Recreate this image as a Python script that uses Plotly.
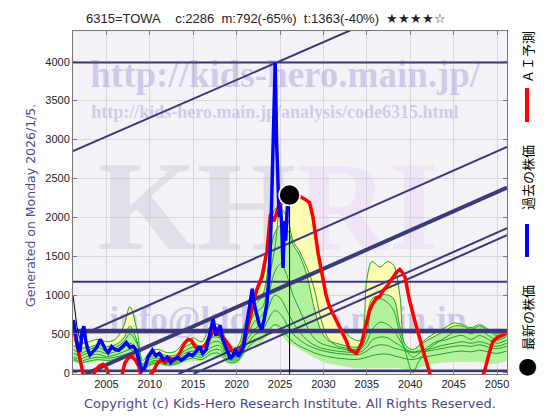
import plotly.graph_objects as go

# ---------------- data ----------------
X_RANGE = [2001.15, 2051.15]
Y_RANGE = [-15, 4395]
X_TICKS = [2005, 2010, 2015, 2020, 2025, 2030, 2035, 2040, 2045, 2050]
Y_TICKS = [0, 500, 1000, 1500, 2000, 2500, 3000, 3500, 4000]

TITLE = "6315=TOWA\u00a0\u00a0\u00a0\u00a0c:2286\u00a0\u00a0m:792(-65%)\u00a0\u00a0t:1363(-40%)\u00a0\u00a0★★★★☆"

BLUE_X = [2001.2, 2001.45, 2001.7, 2001.95, 2002.2, 2002.4, 2002.6, 2002.85, 2003.1, 2003.5,
          2003.9, 2004.3, 2004.6, 2004.9, 2005.2, 2005.6, 2006.0, 2006.4, 2006.8, 2007.3,
          2007.7, 2008.1, 2008.5, 2008.8, 2009.1, 2009.4, 2009.8, 2010.3, 2010.7, 2011.1,
          2011.6, 2012.0, 2012.4, 2012.8, 2013.2, 2013.6, 2014.0, 2014.5, 2014.9, 2015.3,
          2015.7, 2016.1, 2016.5, 2016.8, 2017.1, 2017.3, 2017.6, 2017.9, 2018.1, 2018.4,
          2018.7, 2019.0, 2019.3, 2019.6, 2019.9, 2020.2, 2020.5, 2020.8, 2021.0, 2021.2,
          2021.5, 2021.8, 2022.0, 2022.3, 2022.6, 2022.9, 2023.2, 2023.5, 2023.75, 2023.95,
          2024.1, 2024.25, 2024.45, 2024.6, 2024.75, 2024.9, 2025.05, 2025.2, 2025.35, 2025.5,
          2025.65, 2025.85, 2026.0, 2026.1]
BLUE_Y = [680, 520, 330, 270, 520, 600, 420, 300, 230, 280,
          330, 430, 360, 300, 260, 340, 300, 290, 330, 390,
          330, 340, 280, 120, 30, 60, 200, 290, 220, 250,
          170, 200, 130, 180, 200, 160, 190, 240, 220, 270,
          340, 250, 300, 450, 600, 690, 480, 560, 610, 430,
          350, 250, 180, 230, 300, 210, 260, 330, 500, 660,
          850, 1080, 900, 760, 620, 560, 700, 900, 1250, 1850,
          2500, 3300, 3990, 3000, 2300, 2000, 2150, 1900, 1350, 1950,
          1700, 2150, 2200, 2286]

RED_X = [2001.2, 2001.5, 2001.8, 2002.1, 2002.4, 2003.0, 2003.5, 2003.8, 2004.2, 2004.6,
         2005.0, 2005.3, 2006.2, 2006.8, 2007.1, 2007.5, 2007.9, 2008.3, 2008.7, 2009.0,
         2009.8, 2010.4, 2010.8, 2011.3, 2011.8, 2012.3, 2012.8, 2013.2, 2013.6, 2014.0,
         2014.4, 2014.8, 2015.2, 2015.6, 2016.0, 2016.4, 2016.8, 2017.2, 2017.5, 2017.9,
         2018.3, 2018.7, 2019.1, 2019.5, 2019.9, 2020.3, 2020.7, 2021.0, 2021.4, 2021.9,
         2022.3, 2022.9, 2023.5, 2023.9, 2024.3, 2024.8, 2025.3, 2026.0, 2026.6, 2027.3,
         2027.9, 2028.4, 2028.8, 2029.1, 2029.4, 2029.9, 2030.3, 2030.7, 2031.1, 2031.5,
         2032.2, 2032.6, 2033.0, 2033.8, 2034.4, 2034.9, 2035.3, 2035.7, 2036.1, 2036.5,
         2036.9, 2037.3, 2037.7, 2038.0, 2038.4, 2038.8, 2039.1, 2039.4, 2039.9, 2040.5,
         2041.1, 2041.5, 2041.8, 2042.3, 2043.0, 2047.5, 2048.5, 2049.1, 2049.5, 2050.0,
         2050.5, 2051.1]
RED_Y = [580, 420, 250, 120, -60, -150, -40, 40, 90, 110,
         60, -60, -120, -30, 120, 190, 210, 170, 90, -40,
         -80, 20, 110, 170, 130, 190, 160, 200, 290, 380,
         430, 420, 340, 300, 330, 360, 420, 520, 590, 500,
         470, 420, 360, 280, 240, 280, 330, 450, 640, 850,
         1060, 1230, 1570, 2040, 1950, 2130, 2200, 2230, 2250, 2270,
         2230, 2190, 2000, 1750, 1530, 1240, 1000, 850, 760, 680,
         510, 420, 300, 250, 380, 640, 800, 890, 960, 980,
         1060, 1110, 1180, 1240, 1290, 1330, 1290, 1230, 940, 680,
         420, 280, 170, -40, -300, -300, 0, 250, 400, 450,
         480, 510]

BLACK_X = [2001.15, 2001.35, 2001.6, 2001.9, 2002.3]
BLACK_Y = [1000, 800, 600, 450, 380]

LATEST_X = 2026.1
LATEST_Y = 2286

# band / green-line grid
GX = [2001.2, 2002, 2003, 2004, 2005, 2006, 2007, 2007.7, 2008.5, 2009.2,
      2010, 2011, 2012, 2013, 2014, 2015, 2016, 2017, 2018, 2019,
      2020, 2021, 2022, 2023, 2023.7, 2024.4, 2025.1, 2025.8, 2026.5, 2027.3,
      2028.1, 2028.9, 2029.7, 2030.5, 2031.5, 2032.5, 2033.5, 2034.3, 2035, 2035.6,
      2036.5, 2037.4, 2038.1, 2038.8, 2039.5, 2040.3, 2041, 2042, 2043, 2044,
      2045, 2046, 2047, 2048, 2049, 2050, 2051.1]
YELLOW_UP = [420, 380, 400, 430, 400, 430, 600, 850, 560, 160,
             270, 300, 260, 280, 400, 450, 400, 600, 620, 380,
             330, 650, 1000, 1200, 1750, 2100, 2150, 2200, 2230, 2250,
             2200, 1950, 1350, 950, 680, 520, 430, 420, 1200, 1430,
             1360, 1430, 1380, 1000, 300, 250, 350, 450, 520, 580,
             640, 620, 580, 620, 560, 500, 560]
BAND_LOW = [150, 150, 120, 150, 150, 150, 180, 200, 150, 30,
            80, 100, 80, 90, 130, 150, 150, 200, 200, 120,
            120, 250, 350, 400, 500, 600, 500, 400, 350, 300,
            250, 200, 150, 120, 100, 80, 60, 60, 60, 60,
            60, 60, 60, 60, 40, 20, 60, 100, 120, 130,
            140, 140, 140, 140, 120, 120, 150]
GREEN_UP = [350, 320, 330, 360, 340, 360, 450, 600, 420, 120,
            230, 250, 220, 230, 330, 380, 340, 500, 520, 320,
            280, 550, 850, 1000, 1400, 1800, 1900, 1850, 1650, 1500,
            1250, 850, 550, 420, 380, 350, 330, 350, 700, 950,
            1000, 1000, 950, 600, 350, 300, 350, 420, 480, 540,
            600, 600, 560, 600, 540, 480, 520]
G3 = [300, 250, 300, 330, 280, 320, 400, 500, 380, 100,
      200, 220, 180, 200, 280, 330, 300, 450, 450, 260,
      230, 480, 750, 850, 1200, 1600, 2100, 2000, 1700, 1550,
      1350, 1100, 700, 450, 350, 320, 300, 320, 500, 850,
      950, 900, 800, 500, 250, 0, 150, 300, 380, 450,
      520, 560, 500, 550, 480, 420, 470]
G4 = [250, 220, 260, 280, 250, 270, 320, 380, 300, 80,
      170, 190, 160, 170, 250, 280, 260, 380, 400, 230,
      200, 420, 650, 750, 1000, 1300, 1400, 1250, 1000, 800,
      600, 450, 380, 350, 320, 300, 280, 300, 400, 550,
      650, 620, 550, 420, 300, 200, 250, 330, 400, 420,
      460, 480, 430, 480, 430, 380, 420]
G5 = [200, 180, 220, 240, 210, 230, 270, 300, 250, 60,
      140, 160, 130, 150, 220, 250, 230, 320, 350, 200,
      180, 380, 550, 650, 850, 1000, 950, 800, 650, 520,
      420, 360, 320, 300, 280, 270, 260, 270, 330, 420,
      460, 450, 400, 350, 300, 270, 280, 300, 330, 360,
      380, 400, 380, 400, 370, 340, 380]
G6 = [180, 150, 180, 200, 190, 200, 230, 250, 200, 50,
      120, 140, 110, 130, 190, 220, 200, 280, 300, 170,
      160, 330, 480, 550, 700, 800, 750, 620, 500, 420,
      360, 320, 290, 270, 250, 240, 230, 240, 280, 330,
      360, 350, 320, 300, 280, 260, 270, 280, 300, 320,
      340, 350, 340, 360, 330, 310, 340]
G7 = [160, 130, 150, 170, 160, 170, 200, 220, 170, 40,
      100, 120, 100, 110, 160, 190, 170, 240, 250, 140,
      140, 280, 400, 450, 550, 620, 580, 480, 400, 340,
      300, 260, 230, 210, 190, 180, 170, 180, 200, 220,
      240, 240, 220, 200, 180, 170, 190, 210, 230, 250,
      270, 280, 270, 290, 270, 250, 280]

H_LEVELS = [3990, 1170, 538, 26]
H_WIDTHS = [2, 2, 4.5, 2.5]

# trend lines: (x0, y0, x1, y1, width)
TREND_A = [2001.15, 2850, 2051.15, 5280, 2]
TREND_B = [2003.15, 538, 2051.15, 2905, 2]
TREND_C = [2002.6, -15, 2051.15, 2381, 4]
TREND_D = [2013.3, -15, 2051.15, 1859, 2]
TREND_E = [2015.0, -15, 2051.15, 1769, 2]

# ---------------- figure ----------------
NAVY = "#3a3a78"
GREEN = "#1fa31f"
fig = go.Figure()

# watermarks (behind data)
WM = "rgba(165,165,220,0.5)"
fig.add_trace(go.Scatter(x=[2025.6], y=[3800], mode="text", text=["http://kids-hero.main.jp/"],
                         textfont=dict(family="Liberation Serif", size=37, color=WM, weight="bold"),
                         hoverinfo="skip", showlegend=False))
fig.add_trace(go.Scatter(x=[2024.4], y=[3330], mode="text", text=["http://kids-hero.main.jp/analysis/code6315.html"],
                         textfont=dict(family="Liberation Serif", size=18, color=WM, weight="bold"),
                         hoverinfo="skip", showlegend=False))
fig.add_trace(go.Scatter(x=[2023.6], y=[2010], mode="text",
                         text=["KH<span style='color:rgba(205,172,240,0.55)'>RI</span>"],
                         textfont=dict(family="Liberation Serif", size=128, color="rgba(185,185,195,0.34)",
                                       weight="bold"),
                         hoverinfo="skip", showlegend=False))
fig.add_trace(go.Scatter(x=[2025.9], y=[650], mode="text", text=["info@kids-hero.main.jp"],
                         textfont=dict(family="Liberation Serif", size=35, color=WM, weight="bold"),
                         hoverinfo="skip", showlegend=False))

# bands
fig.add_trace(go.Scatter(x=GX, y=BAND_LOW, mode="lines", line=dict(width=0, shape="spline"),
                         hoverinfo="skip", showlegend=False))
fig.add_trace(go.Scatter(x=GX, y=YELLOW_UP, mode="lines", fill="tonexty", fillcolor="rgb(255,251,178)",
                         line=dict(color=GREEN, width=1, shape="spline"), showlegend=False))
fig.add_trace(go.Scatter(x=GX, y=BAND_LOW, mode="lines", line=dict(width=0, shape="spline"),
                         hoverinfo="skip", showlegend=False))
fig.add_trace(go.Scatter(x=GX, y=GREEN_UP, mode="lines", fill="tonexty", fillcolor="rgb(178,242,158)",
                         line=dict(color=GREEN, width=1, shape="spline"), showlegend=False))
for g in (G3, G4, G5, G6, G7):
    fig.add_trace(go.Scatter(x=GX, y=g, mode="lines", line=dict(color=GREEN, width=1, shape="spline"),
                             showlegend=False))

# horizontal lines
for lev, w in zip(H_LEVELS, H_WIDTHS):
    fig.add_trace(go.Scatter(x=X_RANGE, y=[lev, lev], mode="lines", line=dict(color=NAVY, width=w),
                             hoverinfo="skip", showlegend=False))
# trend lines
for t in (TREND_A, TREND_B, TREND_C, TREND_D, TREND_E):
    fig.add_trace(go.Scatter(x=[t[0], t[2]], y=[t[1], t[3]], mode="lines",
                             line=dict(color=NAVY, width=t[4]), hoverinfo="skip", showlegend=False))

fig.add_trace(go.Scatter(x=BLACK_X, y=BLACK_Y, mode="lines", line=dict(color="black", width=1), showlegend=False))
fig.add_trace(go.Scatter(x=RED_X, y=RED_Y, mode="lines", line=dict(color="#ff0000", width=3.5), showlegend=False))
fig.add_trace(go.Scatter(x=BLUE_X, y=BLUE_Y, mode="lines", line=dict(color="#0000ff", width=3.5), showlegend=False))
fig.add_trace(go.Scatter(x=[LATEST_X, LATEST_X], y=[Y_RANGE[0], LATEST_Y], mode="lines",
                         line=dict(color="black", width=1), showlegend=False))
fig.add_trace(go.Scatter(x=[LATEST_X], y=[LATEST_Y], mode="markers",
                         marker=dict(color="black", size=21, line=dict(color="white", width=1.5)),
                         showlegend=False))

axis_common = dict(showgrid=True, gridcolor="#d8d8d8", gridwidth=1, zeroline=False, showline=True,
                   linecolor="#777777", linewidth=1, mirror="ticks", ticks="inside", ticklen=4,
                   tickcolor="#777777", tickfont=dict(family="Liberation Sans", size=11, color="#222222"))
fig.update_xaxes(range=X_RANGE, tickvals=X_TICKS, **axis_common)
fig.update_yaxes(range=Y_RANGE, tickvals=Y_TICKS, **axis_common)

# page body has an 8px margin; plot area on screen spans x 73..507, y 31..374
W, H = 552, 412
L, T = 65, 23
PW, PH = 434, 343
R, B = W - L - PW, H - T - PH


def px(xs):
    return (xs - 73) / PW


def py(ys):
    return (374 - ys) / PH


TXT = "#4a4a8c"
CJK = "Noto Sans CJK JP"
ann = [
    dict(text=TITLE, x=px(266), y=py(18), font=dict(family="Liberation Sans", size=13, color="#222222")),
    dict(text="Generated on Monday 2026/1/5.", x=px(30), y=py(206), textangle=-90,
         font=dict(family="DejaVu Sans", size=12.5, color=TXT)),
    dict(text="Copyright (c) Kids-Hero Research Institute. All Rights Reserved.", x=px(290), y=py(403),
         font=dict(family="DejaVu Sans", size=13, color=TXT)),
    dict(text="ＡＩ予測", x=px(527), y=py(57), textangle=-90, font=dict(family=CJK, size=13, color="black")),
    dict(text="過去の株価", x=px(527), y=py(178), textangle=-90, font=dict(family=CJK, size=13, color="black")),
    dict(text="最新の株価", x=px(527), y=py(318), textangle=-90, font=dict(family=CJK, size=13, color="black")),
    dict(text="●", x=px(527), y=py(365), font=dict(family="DejaVu Sans", size=22, color="black")),
]
for a in ann:
    a.update(xref="paper", yref="paper", showarrow=False, xanchor="center", yanchor="middle")

shapes = [
    dict(type="rect", xref="paper", yref="paper", x0=px(525), x1=px(529), y0=py(122), y1=py(88),
         fillcolor="#ff0000", line=dict(width=0)),
    dict(type="rect", xref="paper", yref="paper", x0=px(525), x1=px(529), y0=py(257), y1=py(224),
         fillcolor="#0000ff", line=dict(width=0)),
]

fig.update_layout(width=W, height=H, margin=dict(l=L, r=R, t=T, b=B),
                  paper_bgcolor="white", plot_bgcolor="#f5f2f7",
                  annotations=ann, shapes=shapes, showlegend=False)

fig.write_html("out.html")
